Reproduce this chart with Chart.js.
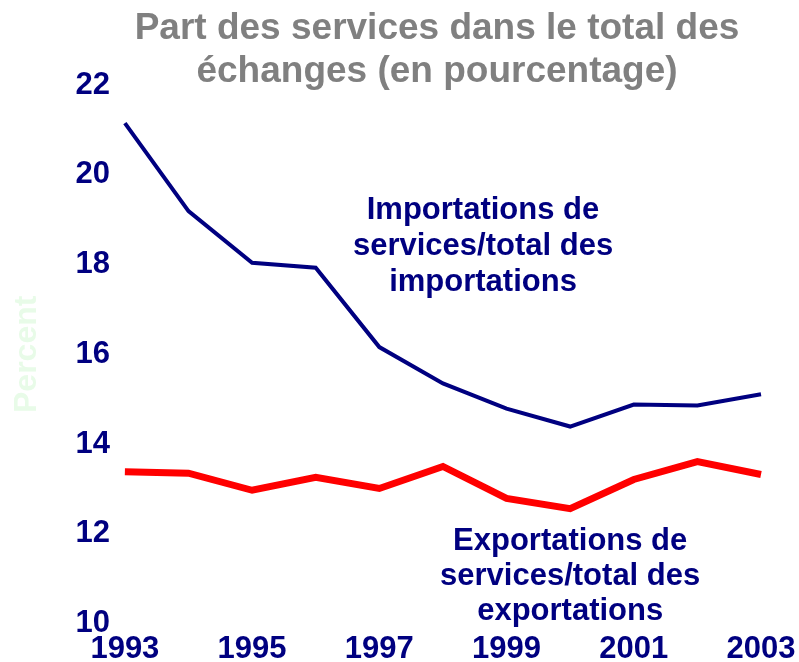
<!DOCTYPE html>
<html>
<head>
<meta charset="utf-8">
<style>
  html, body { margin: 0; padding: 0; background: #fff; overflow: hidden; }
  #wrap { width: 799px; height: 662px; }
</style>
<script src="https://cdn.jsdelivr.net/npm/chart.js@4/dist/chart.umd.min.js"></script>
</head>
<body>
<div id="wrap"><canvas id="tradeChart" width="799" height="662"></canvas></div>
<script>
const years = ["1993", "1994", "1995", "1996", "1997", "1998", "1999", "2000", "2001", "2002", "2003"];
const importsShare = [21.15, 19.19, 18.04, 17.93, 16.16, 15.35, 14.79, 14.39, 14.88, 14.86, 15.11];
const exportsShare = [13.38, 13.35, 12.97, 13.26, 13.01, 13.5, 12.79, 12.56, 13.21, 13.61, 13.32];
const titleLines = ["Part des services dans le total des", "échanges (en pourcentage)"];
const importsLabel = ["Importations de", "services/total des", "importations"];
const exportsLabel = ["Exportations de", "services/total des", "exportations"];

const navy = "#000080";
const fontFamily = "'Liberation Sans', Arial, sans-serif";

// title + line captions drawn on the canvas after the chart
const textPlugin = {
  id: "texts",
  afterDraw(chart) {
    const c = chart.ctx;
    const x = chart.scales.x;
    const y = chart.scales.y;
    c.save();
    c.textAlign = "center";
    c.textBaseline = "middle";

    c.fillStyle = "#808080";
    c.font = "bold 37px " + fontFamily;
    titleLines.forEach((t, i) => c.fillText(t, 437, 29 + i * 43));

    c.fillStyle = navy;
    c.font = "bold 31px " + fontFamily;
    const ix = x.getPixelForValue(5.63);
    const iy = y.getPixelForValue(19.21);
    importsLabel.forEach((t, i) => c.fillText(t, ix, iy + i * 36));
    const ex = x.getPixelForValue(7.0);
    const ey = y.getPixelForValue(11.82);
    exportsLabel.forEach((t, i) => c.fillText(t, ex, ey + i * 35));
    c.restore();
  }
};

const ctx = document.getElementById("tradeChart").getContext("2d");
new Chart(ctx, {
  type: "line",
  data: {
    labels: years,
    datasets: [
      {
        label: "Importations",
        data: importsShare,
        borderColor: navy,
        borderWidth: 4,
        pointRadius: 0,
        tension: 0
      },
      {
        label: "Exportations",
        data: exportsShare,
        borderColor: "#ff0000",
        borderWidth: 7,
        pointRadius: 0,
        tension: 0
      }
    ]
  },
  options: {
    responsive: false,
    animation: false,
    layout: { padding: { top: 85, right: 0, bottom: -13, left: 8 } },
    scales: {
      x: {
        grid: { display: false, drawTicks: false },
        border: { display: false },
        // last label may hang a bit past the plot, like the original
        afterFit: (scale) => { scale.paddingRight = 38; },
        ticks: {
          autoSkip: false,
          maxRotation: 0,
          padding: 11,
          color: navy,
          font: { family: fontFamily, size: 31, weight: "bold", lineHeight: 0.95 },
          callback: (v, i) => (i % 2 === 0 ? years[i] : "")
        }
      },
      y: {
        min: 10,
        max: 22,
        grid: { display: false, drawTicks: false },
        border: { display: false },
        title: {
          display: true,
          text: "Percent",
          color: "#e8fbe8",
          font: { family: fontFamily, size: 32, weight: "bold" },
          padding: { top: 0, bottom: 14 }
        },
        ticks: {
          stepSize: 2,
          padding: 15,
          color: navy,
          font: { family: fontFamily, size: 31, weight: "bold" }
        }
      }
    },
    plugins: {
      legend: { display: false },
      tooltip: { enabled: false }
    }
  },
  plugins: [textPlugin]
});
</script>
</body>
</html>
